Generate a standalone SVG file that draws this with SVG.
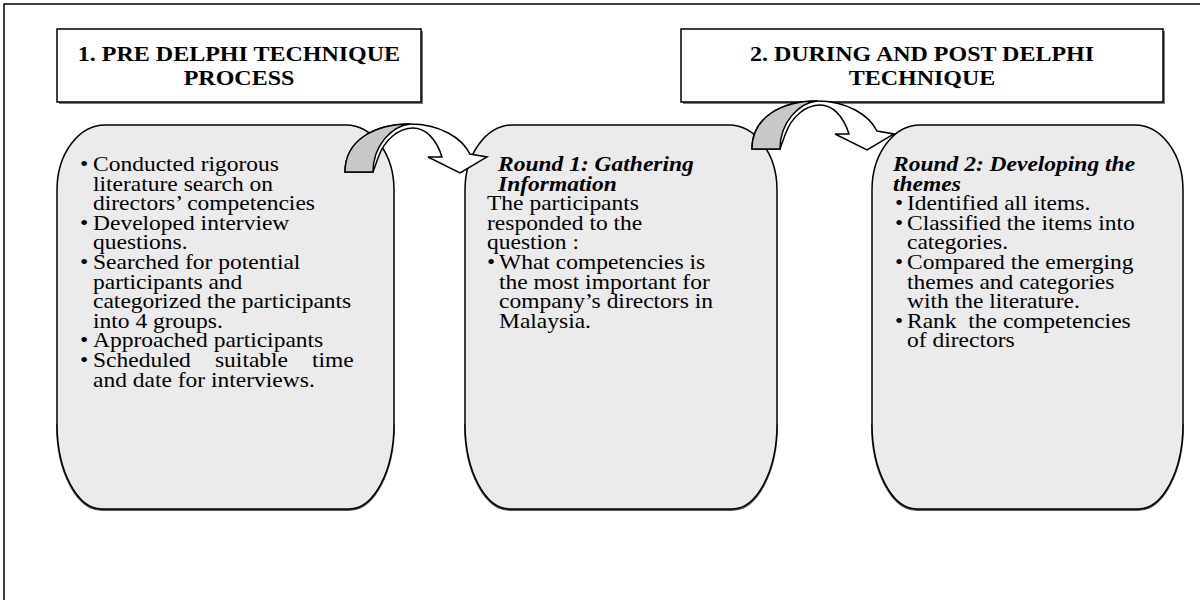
<svg xmlns="http://www.w3.org/2000/svg" width="1200" height="600" viewBox="0 0 1200 600">
<style>
.frame{fill:none;stroke:#000;stroke-width:1.5}
.hdr{fill:#fff;stroke:#000;stroke-width:1.5}
.hshadow{fill:#7a7a7a}
.box{fill:#ebebeb;stroke:#000;stroke-width:1.5}
.bshadow{fill:none;stroke:#555;stroke-width:2}
.ht{font-family:"Liberation Serif","Times New Roman",serif;font-weight:bold;font-size:24px;fill:#000;text-anchor:middle}
.t{font-family:"Liberation Serif","Times New Roman",serif;font-size:23.5px;fill:#000;white-space:pre}
.bi{font-weight:bold;font-style:italic}
.arw{fill:#fff;stroke:#000;stroke-width:1.5;stroke-linejoin:miter}
.arg{fill:#c8c8c8;stroke:#000;stroke-width:1.5}
</style>
<path class="frame" d="M4,600 V4 H1200"/>

<g id="header1">
<rect class="hshadow" x="59" y="31" width="364" height="73"/>
<rect class="hdr" x="57" y="29" width="364" height="73"/>
<g transform="matrix(1 0 0 0.9 0 0)">
<text class="ht" x="239" y="68.3">1. PRE DELPHI TECHNIQUE</text>
<text class="ht" x="239" y="93.9">PROCESS</text>
</g>
</g>

<g id="header2">
<rect class="hshadow" x="683" y="31" width="482" height="73"/>
<rect class="hdr" x="681" y="29" width="482" height="73"/>
<g transform="matrix(1 0 0 0.9 0 0)">
<text class="ht" x="922" y="68.3">2. DURING AND POST DELPHI</text>
<text class="ht" x="922" y="93.9">TECHNIQUE</text>
</g>
</g>

<g id="box1">
<path class="bshadow" d="M57,424 A45,85 0 0 0 102,510 L349,510 A45,85 0 0 0 394,424"/>
<path class="box" d="M105,125 L346,125 A48,65 0 0 1 394,190 L394,424 A45,85 0 0 1 349,509 L102,509 A45,85 0 0 1 57,424 L57,190 A48,65 0 0 1 105,125 Z"/>
<g transform="matrix(1 0 0 0.86 0 0)">
<text class="t" x="80" y="198.8">•</text><text class="t" x="93" y="198.8">Conducted rigorous</text>
<text class="t" x="93" y="221.6">literature search on</text>
<text class="t" x="93" y="244.4">directors’ competencies</text>
<text class="t" x="80" y="267.2">•</text><text class="t" x="93" y="267.2">Developed interview</text>
<text class="t" x="93" y="290">questions.</text>
<text class="t" x="80" y="312.8">•</text><text class="t" x="93" y="312.8">Searched for potential</text>
<text class="t" x="93" y="335.6">participants and</text>
<text class="t" x="93" y="358.4">categorized the participants</text>
<text class="t" x="93" y="381.2">into 4 groups.</text>
<text class="t" x="80" y="403.9">•</text><text class="t" x="93" y="403.9">Approached participants</text>
<text class="t" x="80" y="426.7">•</text><text class="t" y="426.7"><tspan x="93">Scheduled</tspan><tspan x="215">suitable</tspan><tspan x="312">time</tspan></text>
<text class="t" x="93" y="449.5">and date for interviews.</text>
</g>
</g>

<g id="box2">
<path class="bshadow" d="M465,424 A45,85 0 0 0 510,510 L732,510 A45,85 0 0 0 777,424"/>
<path class="box" d="M513,125 L729,125 A48,65 0 0 1 777,190 L777,424 A45,85 0 0 1 732,509 L510,509 A45,85 0 0 1 465,424 L465,190 A48,65 0 0 1 513,125 Z"/>
<g transform="matrix(1 0 0 0.86 0 0)">
<text class="t bi" x="498" y="198.8">Round 1: Gathering</text>
<text class="t bi" x="498" y="221.6">Information</text>
<text class="t" x="487" y="244.4">The participants</text>
<text class="t" x="487" y="267.2">responded to the</text>
<text class="t" x="487" y="290">question :</text>
<text class="t" x="487" y="312.8">•</text><text class="t" x="499" y="312.8">What competencies is</text>
<text class="t" x="499" y="335.6">the most important for</text>
<text class="t" x="499" y="358.4">company’s directors in</text>
<text class="t" x="499" y="381.2">Malaysia.</text>
</g>
</g>

<g id="box3">
<path class="bshadow" d="M872,424 A45,85 0 0 0 917,510 L1138,510 A45,85 0 0 0 1183,424"/>
<path class="box" d="M920,125 L1135,125 A48,65 0 0 1 1183,190 L1183,424 A45,85 0 0 1 1138,509 L917,509 A45,85 0 0 1 872,424 L872,190 A48,65 0 0 1 920,125 Z"/>
<g transform="matrix(1 0 0 0.86 0 0)">
<text class="t bi" x="893" y="198.8">Round 2: Developing the</text>
<text class="t bi" x="893" y="221.6">themes</text>
<text class="t" x="895" y="244.4">•</text><text class="t" x="907" y="244.4">Identified all items.</text>
<text class="t" x="895" y="267.2">•</text><text class="t" x="907" y="267.2">Classified the items into</text>
<text class="t" x="907" y="290">categories.</text>
<text class="t" x="895" y="312.8">•</text><text class="t" x="907" y="312.8">Compared the emerging</text>
<text class="t" x="907" y="335.6">themes and categories</text>
<text class="t" x="907" y="358.4">with the literature.</text>
<text class="t" x="895" y="381.2">•</text><text class="t" x="907" y="381.2">Rank  the competencies</text>
<text class="t" x="907" y="403.9">of directors</text>
</g>
</g>

<g id="connectors">
<g id="arrow1">
<path class="arw" d="M345,172 C345,140 375,124 410,124 C440,124 462,138 470,154 L487,157 L460,173 L428,157 L442,157 C436,138 425,128 413,128 C400,128 385,138 378,158 L373,172 Z"/>
<path class="arg" d="M345,172 C345,140 375,124 410,124 C392,126 373,145 373,172 Z"/>
</g>
<g id="arrow2" transform="translate(407,-23)">
<path class="arw" d="M345,172 C345,140 375,124 410,124 C440,124 462,138 470,154 L487,157 L460,173 L428,157 L442,157 C436,138 425,128 413,128 C400,128 385,138 378,158 L373,172 Z"/>
<path class="arg" d="M345,172 C345,140 375,124 410,124 C392,126 373,145 373,172 Z"/>
</g>
</g>
</svg>
